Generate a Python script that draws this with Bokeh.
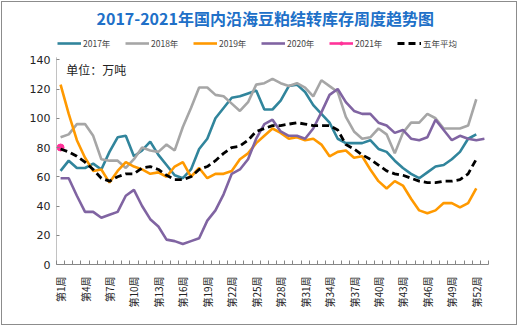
from bokeh.plotting import figure
from bokeh.models import Range1d, FixedTicker, Legend, LegendItem, Label
from bokeh.embed import file_html
from bokeh.resources import INLINE
import math

weeks = list(range(1, 54))
week_labels = {w: f"第{w}周" for w in range(1, 54, 3)}

y2017 = [64, 71, 66, 66, 69, 65, 77, 87, 88, 74, 78, 84, 75, 68, 61, 59, 65, 79, 86, 100,
         107, 114, 115, 117, 119, 106, 106, 112, 122, 123, 118, 109, 103, 97, 86, 83, 83, 83, 85, 79,
         77, 71, 66, 62, 59, 63, 67, 68, 72, 77, 86, 89]
y2018 = [87, 89, 96, 96, 88, 72, 71, 71, 66, 72, 80, 78, 77, 82, 78, 94, 107, 121, 121, 116,
         115, 110, 105, 111, 123, 124, 127, 124, 122, 124, 121, 115, 126, 122, 118, 101, 91, 86, 87, 93,
         89, 76, 90, 97, 97, 103, 100, 93, 93, 93, 95, 113]
y2019 = [123, 103, 85, 73, 64, 65, 56, 64, 70, 67, 65, 62, 63, 60, 67, 70, 60, 66, 59, 62,
         62, 64, 72, 76, 83, 88, 93, 90, 86, 87, 85, 86, 82, 74, 77, 78, 73, 74, 65, 57,
         52, 57, 54, 45, 37, 35, 37, 42, 42, 39, 42, 52]
y2020 = [59, 59, 47, 36, 36, 32, 34, 36, 47, 51, 40, 31, 26, 17, 16, 14, 16, 18, 30, 37,
         48, 62, 65, 72, 86, 96, 99, 91, 88, 88, 86, 93, 104, 116, 120, 111, 105, 103, 103, 97,
         95, 90, 92, 86, 85, 87, 99, 92, 85, 88, 86, 85, 86]
y2021 = [80]
yavg = [79, 77, 74, 70, 65, 59, 57, 60, 62, 62, 66, 67, 65, 61, 58, 58, 60, 65, 67, 71,
        76, 80, 81, 85, 91, 93, 95, 95, 96, 97, 96, 95, 95, 95, 92, 82, 79, 75, 72, 68,
        64, 62, 61, 59, 57, 56, 56, 57, 57, 58, 62, 72]

series_names = ["2017年", "2018年", "2019年", "2020年", "2021年", "五年平均"]
colors = ["#31859C", "#A6A6A6", "#FF9900", "#8064A2", "#FF3399", "#000000"]
y_ticks = [0, 20, 40, 60, 80, 100, 120, 140]

FONT = "Noto Sans CJK SC"
Y_AXIS_TOP = 141.7

p = figure(width=516, height=324, output_backend="svg", toolbar_location=None,
           x_range=Range1d(0.5, 53.5), y_range=Range1d(0, 160.7),
           min_border_left=54, min_border_right=30, min_border_bottom=62, min_border_top=27)
p.styles = {"margin-left": "1px", "margin-top": "1px", "border": "1px solid #8c8c8c"}
p.outline_line_color = None
p.xgrid.visible = False
p.ygrid.visible = False
p.background_fill_color = "white"
p.border_fill_color = "white"

p.title.text = "2017-2021年国内沿海豆粕结转库存周度趋势图"
p.title.align = "left"
p.title.offset = 40
p.title.text_color = "#2070C8"
p.title.text_font = FONT
p.title.text_font_size = "16px"
p.title.text_font_style = "bold"
p.title.standoff = 0

# y axis line (only up to the top tick region)
p.segment(x0=[0.5], y0=[0], x1=[0.5], y1=[Y_AXIS_TOP], line_color="#868686", line_width=1)

renderers = []
for ys, c in [(y2017, colors[0]), (y2018, colors[1]), (y2019, colors[2]), (y2020, colors[3])]:
    r = p.line(weeks[:len(ys)], ys, line_color=c, line_width=2.6)
    renderers.append([r])
r21l = p.line(weeks[:len(y2021)], y2021, line_color=colors[4], line_width=2.6)
r21s = p.scatter(weeks[:len(y2021)], y2021, size=7, fill_color=colors[4], line_color=colors[4])
renderers.append([r21l, r21s])
ravg = p.line(weeks[:len(yavg)], yavg, line_color="black", line_width=2.8, line_dash="7 4")
renderers.append([ravg])

items = [LegendItem(label=n, renderers=rs) for n, rs in zip(series_names, renderers)]
legend = Legend(items=items, orientation="horizontal", location=(1, 215),
                glyph_width=24, glyph_height=8, label_standoff=2, label_width=40,
                spacing=2, padding=2, margin=0,
                label_text_font=FONT, label_text_font_size="8.5px",
                border_line_color=None, background_fill_alpha=0)
p.add_layout(legend, "center")

# x axis
xa = p.xaxis[0]
xa.ticker = FixedTicker(ticks=list(week_labels.keys()),
                        minor_ticks=[w + 0.5 for w in range(0, 54)])
xa.major_label_overrides = week_labels
xa.major_label_orientation = math.pi / 2
xa.major_label_text_font = FONT
xa.major_label_text_font_size = "10px"
xa.major_label_text_color = "#222222"
xa.major_tick_line_color = None
xa.minor_tick_in = 4
xa.minor_tick_out = 0
xa.minor_tick_line_color = "#868686"
xa.axis_line_color = "#868686"
xa.major_label_standoff = 6

# y axis
ya = p.yaxis[0]
ya.ticker = FixedTicker(ticks=y_ticks)
ya.major_label_text_font = "DejaVu Sans"
ya.major_label_text_font_size = "11px"
ya.major_label_text_color = "#222222"
ya.axis_line_color = None
ya.major_tick_line_color = "#868686"
ya.major_tick_in = 3
ya.major_tick_out = 0
ya.minor_tick_line_color = None
ya.major_label_standoff = 6

p.add_layout(Label(x=1.7, y=133.5, text="单位：万吨", text_font=FONT,
                   text_font_size="12px", text_baseline="middle", text_color="#222222"))

open("out.html", "w").write(file_html(p, INLINE))
